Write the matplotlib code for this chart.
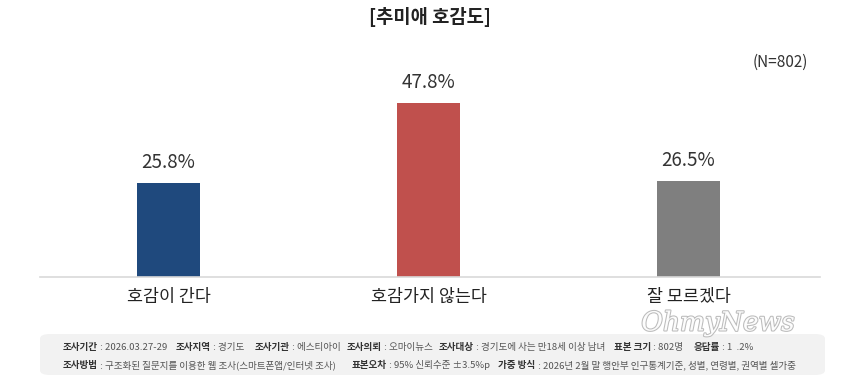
import matplotlib
matplotlib.use("Agg")
import matplotlib.pyplot as plt
from matplotlib.patches import FancyBboxPatch
from matplotlib.text import Annotation
import matplotlib.patheffects as pe

plt.rcParams['font.family'] = ['Noto Sans CJK KR', 'DejaVu Sans']

categories = ["호감이 간다", "호감가지 않는다", "잘 모르겠다"]
values = [25.8, 47.8, 26.5]
colors = ["#1F497D", "#C0504D", "#7F7F7F"]
title = "[추미애 호감도]"
n_label = "(N=802)"

footer_line1 = [("조사기간", True), (" : 2026.03.27-29    ", False),
                ("조사지역", True), (" : 경기도     ", False),
                ("조사기관", True), (" : 에스티아이   ", False),
                ("조사의뢰", True), (" : 오마이뉴스   ", False),
                ("조사대상", True), (" : 경기도에 사는 만18세 이상 남녀    ", False),
                ("표본 크기", True), (" : 802명     ", False),
                ("응답률", True), (" : 1  .2%", False)]
footer_line2a = [("조사방법", True), (" : 구조화된 질문지를 이용한 웹 조사(스마트폰앱/인터넷 조사)", False)]
footer_line2b = [("표본오차", True), (" : 95% 신뢰수준 ±3.5%p    ", False),
                 ("가중 방식", True), (" : 2026년 2월 말 행안부 인구통계기준, 성별, 연령별, 권역별 셀가중", False)]

W, H = 860, 381
fig = plt.figure(figsize=(W / 100, H / 100), dpi=100)
fig.patch.set_facecolor("white")

ax = fig.add_axes([40 / W, 1 - 277 / H, 780 / W, 200 / H])
x = range(len(categories))
ax.bar(x, values, width=0.245, color=colors, zorder=2)
ax.set_xlim(-0.494, 2.506)
ax.set_ylim(0, 55)
for s in ["top", "right", "left"]:
    ax.spines[s].set_visible(False)
ax.spines["bottom"].set_color("#D9D9D9")
ax.spines["bottom"].set_linewidth(1.2)
ax.set_yticks([])
ax.set_xticks(list(x))
ax.set_xticklabels(categories, fontsize=12.5, color="#222222")
ax.tick_params(axis="x", length=0, pad=8)
for xi, v in zip(x, values):
    ax.annotate(f"{v}%", (xi, v), xytext=(0, 7), textcoords="offset points",
                ha="center", va="bottom", fontsize=13.5, color="#333333")

fig.text(430 / W, 1 - 17 / H, title, ha="center", va="center",
         fontsize=13.5, fontweight="bold", color="#222222")
fig.text(780 / W, 1 - 62 / H, n_label, ha="center", va="center",
         fontsize=11, color="#333333")

# footer box
box = FancyBboxPatch((40 / W, 1 - 375 / H), 785 / W, 41 / H,
                     boxstyle="round,pad=0,rounding_size=0.012",
                     transform=fig.transFigure, facecolor="#F2F2F2",
                     edgecolor="none", zorder=0)
fig.patches.append(box)

# watermark
fig.text(718 / W, 1 - 323 / H, "OhmyNews", ha="center", va="center",
         fontsize=19, family="DejaVu Serif", style="italic", color="white",
         zorder=1, alpha=0.95,
         path_effects=[pe.withStroke(linewidth=1.5, foreground="#B8B8B8")])


def chain_text(segs, x0, y0):
    last = None
    for txt, bold in segs:
        kw = dict(fontsize=6.9, color="#333333" if bold else "#555555",
                  fontweight="bold" if bold else "normal", zorder=3)
        if last is None:
            last = fig.text(x0 / W, 1 - y0 / H, txt, ha="left", va="baseline", **kw)
        else:
            last = fig.add_artist(Annotation(
                txt, xy=(1, 0), xycoords=last, xytext=(0, 0),
                textcoords="offset points", ha="left", va="bottom", **kw))
    return last


chain_text(footer_line1, 63, 350)
chain_text(footer_line2a, 63, 368)
chain_text(footer_line2b, 352, 368)

fig.savefig("out.png", dpi=100, facecolor="white")
